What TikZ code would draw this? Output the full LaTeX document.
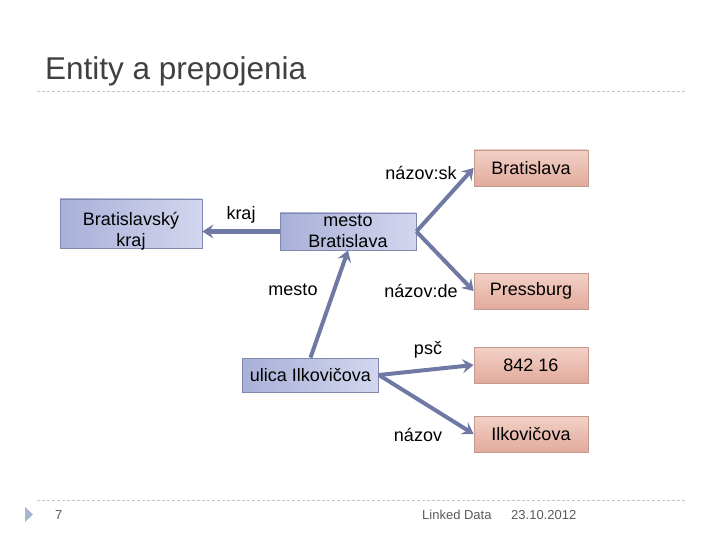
\documentclass[tikz,border=0pt]{standalone}
\usepackage{fontspec}
\setsansfont{Liberation Sans}
\usetikzlibrary{arrows.meta, positioning}
\definecolor{linkblue}{HTML}{6F79A3}
\definecolor{entborder}{HTML}{8088AE}
\definecolor{entleft}{HTML}{A9B0D8}
\definecolor{entright}{HTML}{D3D6EE}
\definecolor{litborder}{HTML}{C49A90}
\definecolor{littop}{HTML}{F2D0C6}
\definecolor{litbottom}{HTML}{E2AB9C}
\definecolor{titlegray}{HTML}{404040}
\definecolor{rulegray}{HTML}{C4C4C4}
\definecolor{footgray}{HTML}{5A5A5A}
\definecolor{bulletblue}{HTML}{A7B6CF}

\begin{document}
\begin{tikzpicture}[
    x=1pt, y=-1pt,
    >={Stealth[length=11pt, width=14pt, inset=4pt]},
    font=\sffamily,
    % resources and literals
    entity/.style={rectangle, draw=entborder, line width=0.8pt, left color=entleft, right color=entright, minimum width=136pt, minimum height=36pt, align=center, inner sep=0pt, font=\sffamily\fontsize{18}{21}\selectfont},
    literal/.style={rectangle, draw=litborder, line width=0.8pt, top color=littop, bottom color=litbottom, minimum width=114pt, minimum height=36pt, align=center, inner sep=0pt, font=\sffamily\fontsize{18}{21}\selectfont},
    link/.style={->, line width=4pt, draw=linkblue},
    prop/.style={anchor=base, inner sep=0pt, font=\sffamily\fontsize{18}{21}\selectfont},
    rulerline/.style={draw=rulegray, line width=0.8pt, dash pattern=on 3pt off 2pt},
    footer/.style={anchor=base west, inner sep=0pt, text=footgray, font=\sffamily\fontsize{13}{15}\selectfont}
]
\useasboundingbox (0,0) rectangle (720,540);

% ========================================================
% SLIDE FRAME
% ========================================================

\node[anchor=base west, inner sep=0pt, text=titlegray, font=\sffamily\fontsize{31.5}{36}\selectfont] (title) at (45,80) {Entity a prepojenia};
\coordinate (rtopl) at (37,91);
\coordinate (rtopr) at (685,91);
\draw[rulerline] (rtopl) -- (rtopr);

\coordinate (rbotl) at (37,500);
\coordinate (rbotr) at (685,500);
\draw[rulerline] (rbotl) -- (rbotr);
\fill[bulletblue] (25,507) -- (33,514.5) -- (25,522) -- cycle;
\node[footer] (pagenum) at (55,519) {7};
\node[footer] (course) at (422,519) {Linked Data};
\node[footer] (date) at (511,519) {23.10.2012};

% ========================================================
% ENTITIES
% ========================================================

\node[entity, minimum width=142pt, minimum height=49pt] (krajnode) at (131,223.5) {};
\node[inner sep=0pt, align=center, font=\sffamily\fontsize{18}{21}\selectfont] (krajtext) at (131,231) {Bratislavský\\kraj};
\node[entity, minimum height=37pt] (mesto) at (348,231.5) {mesto\\Bratislava};
\node[entity, minimum height=34pt] (ulica) at (310.5,375) {ulica Ilkovičova};

\node[literal] (nsk) at (531,168) {Bratislava};
\node[literal] (nde) at (531,291) {Pressburg};
\node[literal] (psc) at (531,365) {842 16};
\node[literal] (nazov) at (531,434) {Ilkovičova};

% ========================================================
% LINKS
% ========================================================

\draw[link] (mesto.west) -- (mesto.west -| krajnode.east);
\node[prop] (lkraj) at (241,219) {kraj};

\draw[link] (mesto.east) -- (nsk.west);
\node[prop] (lnsk) at (421,180) {názov:sk};

\draw[link] (mesto.east) -- (nde.west);
\node[prop] (lnde) at (421,297) {názov:de};

\draw[link] (ulica.north) -- (mesto.south);
\node[prop] (lmesto) at (293,295) {mesto};

\draw[link] (ulica.east) -- (psc.west);
\node[prop] (lpsc) at (428,354) {psč};

\draw[link] (ulica.east) -- (nazov.west);
\node[prop] (lnazov) at (418,441) {názov};

\end{tikzpicture}
\end{document}
